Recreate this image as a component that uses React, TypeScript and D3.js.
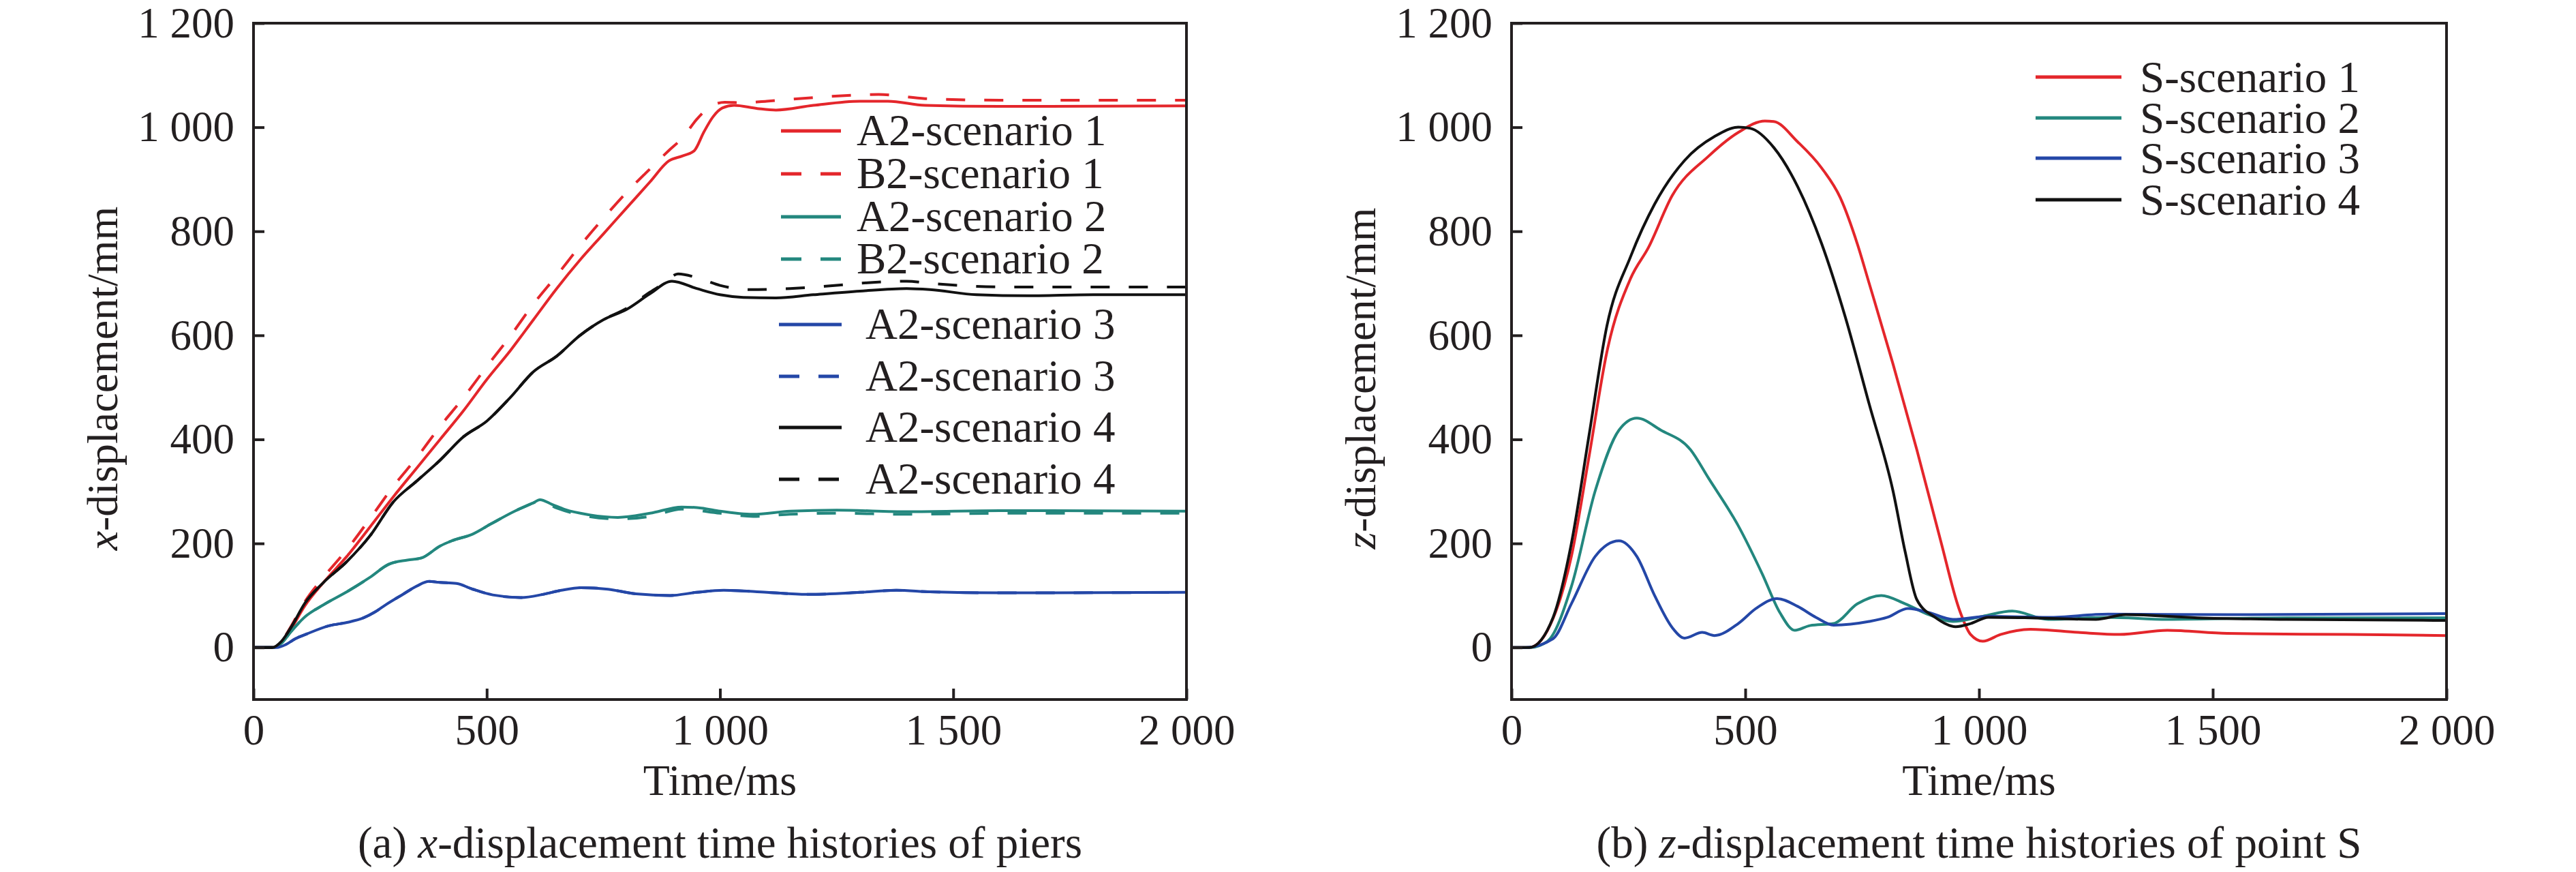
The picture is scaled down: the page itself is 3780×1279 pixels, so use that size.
import React, { useEffect, useRef } from 'react';
import * as d3 from 'd3';

type Pt = [number, number];

// (a) x-displacement of piers, [time ms, displacement mm]
const a2Scenario1: Pt[] = [[0,0],[40,0],[60,10],[80,35],[110,80],[150,125],[200,175],[250,232],[300,290],[350,345],[400,400],[450,455],[500,515],[550,570],[600,630],[650,690],[700,745],[750,795],[800,845],[850,895],[890,935],[920,945],[945,955],[965,990],[985,1020],[1005,1037],[1030,1042],[1080,1036],[1120,1033],[1200,1042],[1300,1050],[1360,1050],[1440,1042],[1600,1040],[2000,1041]];
const b2Scenario1: Pt[] = [[0,0],[40,0],[60,12],[80,40],[110,88],[150,135],[200,188],[250,248],[300,310],[350,365],[400,425],[450,480],[500,540],[550,598],[600,660],[650,715],[700,772],[750,825],[800,875],[850,920],[890,955],[920,980],[950,1015],[980,1040],[1010,1048],[1050,1047],[1100,1050],[1200,1057],[1300,1062],[1340,1063],[1440,1055],[1600,1052],[2000,1052]];
const a2Scenario2: Pt[] = [[0,0],[45,0],[60,8],[80,30],[109,58],[150,82],[202,108],[250,135],[290,160],[330,168],[360,172],[400,195],[425,205],[470,218],[510,238],[560,262],[600,278],[614,284],[640,275],[668,265],[720,255],[781,250],[850,258],[918,270],[960,268],[1000,262],[1071,256],[1150,262],[1250,264],[1403,261],[1600,263],[2000,262]];
const b2Scenario2: Pt[] = [[0,0],[45,0],[60,8],[80,30],[109,58],[150,82],[202,108],[250,135],[290,160],[330,168],[360,172],[400,195],[425,205],[470,218],[510,238],[560,262],[600,278],[614,282],[650,268],[700,255],[781,247],[850,252],[918,266],[1000,258],[1071,252],[1150,256],[1250,258],[1403,256],[1600,258],[2000,258]];
const a2Scenario3: Pt[] = [[0,0],[50,0],[70,6],[90,17],[114,26],[163,42],[200,48],[236,57],[260,68],[285,83],[320,102],[350,118],[376,127],[400,125],[435,123],[470,112],[513,101],[574,96],[620,102],[660,110],[702,115],[760,112],[820,103],[893,100],[950,106],[1008,110],[1100,106],[1186,102],[1300,106],[1378,110],[1450,107],[1600,105],[2000,106]];
const a2Scenario3b: Pt[] = [[0,0],[50,0],[70,6],[90,17],[114,26],[163,42],[200,48],[236,57],[260,68],[285,83],[320,102],[350,118],[376,127],[400,125],[435,123],[470,112],[513,101],[574,96],[620,102],[660,110],[702,115],[760,112],[820,103],[893,100],[950,106],[1008,110],[1100,106],[1186,102],[1300,106],[1378,110],[1450,107],[1600,105],[2000,106]];
const a2Scenario4: Pt[] = [[0,0],[40,0],[60,12],[80,38],[110,85],[150,125],[200,165],[250,215],[300,280],[350,320],[400,360],[450,405],[500,435],[550,480],[600,530],[650,560],[700,600],[750,630],[800,650],[850,680],[897,704],[950,690],[1000,678],[1050,673],[1120,672],[1200,678],[1300,685],[1400,690],[1450,688],[1550,678],[1660,676],[1800,678],[2000,678]];
const a2Scenario4b: Pt[] = [[0,0],[40,0],[60,12],[80,38],[110,85],[150,125],[200,165],[250,215],[300,280],[350,320],[400,360],[450,405],[500,435],[550,480],[600,530],[650,560],[700,600],[750,630],[800,652],[850,683],[880,700],[910,718],[960,708],[1000,696],[1065,688],[1150,690],[1250,696],[1316,701],[1400,704],[1450,700],[1610,693],[2000,693]];

// (b) z-displacement of point S
const sScenario1: Pt[] = [[0,0],[38,0],[77,33],[128,175],[166,368],[204,568],[255,710],[293,769],[344,869],[421,944],[485,990],[542,1012],[561,1011],[612,972],[663,922],[703,865],[740,775],[765,700],[816,545],[867,380],[918,205],[957,75],[982,25],[1008,12],[1046,25],[1110,35],[1212,29],[1301,25],[1403,33],[1531,27],[1786,25],[2000,23]];
const sScenario2: Pt[] = [[0,0],[40,0],[77,12],[128,117],[179,301],[230,418],[268,441],[319,418],[383,380],[421,326],[485,234],[536,142],[574,67],[606,33],[638,42],[689,46],[740,84],[791,100],[842,84],[893,63],[944,50],[1008,60],[1071,70],[1148,54],[1276,58],[1403,54],[1658,57],[2000,57]];
const sScenario3: Pt[] = [[0,0],[30,0],[89,17],[128,84],[179,175],[230,205],[268,175],[306,100],[344,38],[370,18],[408,29],[434,23],[485,46],[523,75],[568,94],[612,79],[651,58],[689,43],[765,50],[804,58],[848,75],[893,67],[944,54],[1020,60],[1148,58],[1276,64],[1531,63],[2000,65]];
const sScenario4: Pt[] = [[0,0],[38,0],[89,58],[128,200],[166,409],[204,618],[255,752],[306,852],[370,936],[434,982],[485,1000],[510,998],[561,961],[612,886],[663,777],[714,635],[765,468],[816,301],[842,184],[867,92],[906,58],[950,40],[982,46],[1020,58],[1110,57],[1250,54],[1314,63],[1467,57],[1658,54],[2000,52]];

const leftLabels = ['A2-scenario 1', 'B2-scenario 1', 'A2-scenario 2', 'B2-scenario 2', 'A2-scenario 3', 'A2-scenario 3', 'A2-scenario 4', 'A2-scenario 4'];
const rightLabels = ['S-scenario 1', 'S-scenario 2', 'S-scenario 3', 'S-scenario 4'];
const xTicks = [0, 500, 1000, 1500, 2000];
const yTicks = [0, 200, 400, 600, 800, 1000, 1200];

const RED = '#e4262b';
const TEAL = '#23877e';
const BLUE = '#2447a7';
const BLACK = '#111111';
const INK = '#231f20';
const FONT = '"Liberation Serif", "Times New Roman", serif';

const leftSeries = [
  { data: a2Scenario1, color: RED, dashed: false },
  { data: b2Scenario1, color: RED, dashed: true },
  { data: a2Scenario2, color: TEAL, dashed: false },
  { data: b2Scenario2, color: TEAL, dashed: true },
  { data: a2Scenario3, color: BLUE, dashed: false },
  { data: a2Scenario3b, color: BLUE, dashed: true },
  { data: a2Scenario4, color: BLACK, dashed: false },
  { data: a2Scenario4b, color: BLACK, dashed: true },
];
const rightSeries = [
  { data: sScenario1, color: RED, dashed: false },
  { data: sScenario2, color: TEAL, dashed: false },
  { data: sScenario3, color: BLUE, dashed: false },
  { data: sScenario4, color: BLACK, dashed: false },
];

const fmt = (d: number) => (d >= 1000 ? `${Math.floor(d / 1000)} ${String(d % 1000).padStart(3, '0')}` : `${d}`);

const App: React.FC = () => {
  const svgRef = useRef<SVGSVGElement | null>(null);

  useEffect(() => {
    const svg = d3.select(svgRef.current!);
    svg.selectAll('*').remove();

    const top = 34;
    const bottom = 1026;
    const y = d3.scaleLinear().domain([-100, 1200]).range([bottom, top]);

    const drawPanel = (
      left: number,
      right: number,
      series: typeof leftSeries,
      axisVar: string,
      caption: [string, string, string],
    ) => {
      const x = d3.scaleLinear().domain([0, 2000]).range([left, right]);
      const g = svg.append('g');

      const line = d3
        .line<Pt>()
        .x((d) => x(d[0]))
        .y((d) => y(d[1]))
        .curve(d3.curveMonotoneX);

      series.forEach((s) => {
        g.append('path')
          .attr('d', line(s.data))
          .attr('fill', 'none')
          .attr('stroke', s.color)
          .attr('stroke-width', 4)
          .attr('stroke-dasharray', s.dashed ? '28 28' : null)
          .attr('stroke-linejoin', 'round');
      });

      // axes, ticks pointing inward
      const xAxis = d3.axisBottom(x).tickValues(xTicks).tickSizeInner(-16).tickSizeOuter(0).tickPadding(21).tickFormat((d) => fmt(+d));
      const yAxis = d3.axisLeft(y).tickValues(yTicks).tickSizeInner(-16).tickSizeOuter(0).tickPadding(28).tickFormat((d) => fmt(+d));

      const gx = g.append('g').attr('transform', `translate(0,${bottom})`).call(xAxis);
      const gy = g.append('g').attr('transform', `translate(${left},0)`).call(yAxis);
      [gx, gy].forEach((ax) => {
        ax.select('.domain').remove();
        ax.selectAll('line').attr('stroke', INK).attr('stroke-width', 4);
        ax.selectAll('text').attr('fill', INK).style('font-family', FONT).style('font-size', '63px');
      });

      g.append('rect')
        .attr('x', left)
        .attr('y', top)
        .attr('width', right - left)
        .attr('height', bottom - top)
        .attr('fill', 'none')
        .attr('stroke', INK)
        .attr('stroke-width', 4);

      const cx = (left + right) / 2;

      g.append('text')
        .attr('x', cx)
        .attr('y', 1166)
        .attr('text-anchor', 'middle')
        .attr('fill', INK)
        .style('font-family', FONT)
        .style('font-size', '64px')
        .text('Time/ms');

      const yl = g
        .append('text')
        .attr('transform', `translate(${left - 200},555) rotate(-90)`)
        .attr('text-anchor', 'middle')
        .attr('fill', INK)
        .style('font-family', FONT)
        .style('font-size', '64px');
      yl.append('tspan').style('font-style', 'italic').text(axisVar);
      yl.append('tspan').text('-displacement/mm');

      const cap = g
        .append('text')
        .attr('x', cx)
        .attr('y', 1258)
        .attr('text-anchor', 'middle')
        .attr('fill', INK)
        .style('font-family', FONT)
        .style('font-size', '65px');
      cap.append('tspan').text(caption[0]);
      cap.append('tspan').style('font-style', 'italic').text(caption[1]);
      cap.append('tspan').text(caption[2]);

      return g;
    };

    const gl = drawPanel(372, 1741, leftSeries, 'x', ['(a) ', 'x', '-displacement time histories of piers']);
    const gr = drawPanel(2218, 3590, rightSeries, 'z', ['(b) ', 'z', '-displacement time histories of point S']);

    // legend of (a): two blocks, as laid out in the figure
    const leftRows = [192, 255, 318, 380, 476, 552, 627, 703];
    leftLabels.forEach((label, i) => {
      const s = leftSeries[i];
      const x0 = i < 4 ? 1146 : 1143;
      const x1 = i < 4 ? 1234 : 1235;
      const tx = i < 4 ? 1257 : 1270;
      gl.append('line')
        .attr('x1', x0)
        .attr('x2', x1)
        .attr('y1', leftRows[i])
        .attr('y2', leftRows[i])
        .attr('stroke', s.color)
        .attr('stroke-width', 5)
        .attr('stroke-dasharray', s.dashed ? '30 28' : null);
      gl.append('text')
        .attr('x', tx)
        .attr('y', leftRows[i] + 21)
        .attr('fill', INK)
        .style('font-family', FONT)
        .style('font-size', '65px')
        .text(label);
    });

    const rightRows = [113, 173, 232, 293];
    rightLabels.forEach((label, i) => {
      const s = rightSeries[i];
      gr.append('line')
        .attr('x1', 2987)
        .attr('x2', 3113)
        .attr('y1', rightRows[i])
        .attr('y2', rightRows[i])
        .attr('stroke', s.color)
        .attr('stroke-width', 5);
      gr.append('text')
        .attr('x', 3140)
        .attr('y', rightRows[i] + 22)
        .attr('fill', INK)
        .style('font-family', FONT)
        .style('font-size', '65px')
        .text(label);
    });
  }, []);

  return (
    <svg
      ref={svgRef}
      width={3780}
      height={1279}
      style={{ position: 'absolute', left: 0, top: 0, background: '#fff' }}
    />
  );
};

export default App;
